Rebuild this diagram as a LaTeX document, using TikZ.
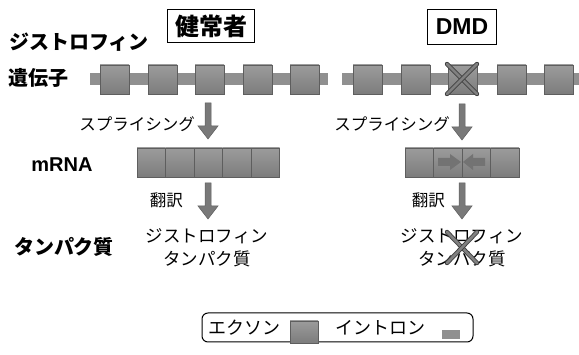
\documentclass[tikz,border=0pt]{standalone}
\usepackage{fontspec}
\setmainfont{Liberation Sans}
\newfontfamily\jp{Noto Sans CJK JP}
\usetikzlibrary{positioning,calc}

\definecolor{exongray}{HTML}{8A8A8A}
\definecolor{introngray}{HTML}{909090}
\definecolor{edgegray}{HTML}{5E5E5E}

\tikzset{
  exon/.style={draw=edgegray, line width=0.6pt, top color=exongray!85!white, bottom color=exongray!90!black},
  intron/.style={fill=introngray, draw=none},
  segment/.style={draw=edgegray, line width=0.8pt, top color=exongray!85!white, bottom color=exongray!90!black},
  flowarrow/.style={fill=gray!95!black, draw=edgegray, line width=0.5pt},
  shiftarrow/.style={fill=black!55, draw=none},
  cross/.style={draw=black!75, double=gray, double distance=2.6pt, line width=0.9pt, line cap=round},
  rowlabel/.style={font=\jp\bfseries\fontsize{20}{22}\selectfont, inner sep=0pt},
  steplabel/.style={font=\jp\fontsize{16.5}{18}\selectfont, inner sep=0pt},
  protlabel/.style={font=\jp\fontsize{17.5}{23}\selectfont, inner sep=0pt, align=center},
  grouptitle/.style={draw, line width=1pt, inner sep=3pt, font=\bfseries\fontsize{23}{25}\selectfont}
}

\begin{document}
\begin{tikzpicture}[x=1pt, y=-1pt]
  \useasboundingbox (0,0) rectangle (579,355);

  % titles
  \node[grouptitle, font=\jp\bfseries\fontsize{24}{26}\selectfont, minimum height=33pt, minimum width=87pt] (healthy) at (211,26) {健常者};
  \node[grouptitle, minimum height=35pt, minimum width=69pt] (dmd) at (462,27) {DMD};

  % row labels
  \node[rowlabel] (lbldys) at (79,42) {ジストロフィン};
  \node[rowlabel] (lblgene) at (39,78) {遺伝子};
  \node[rowlabel, font=\bfseries\fontsize{20}{22}\selectfont] (lblmrna) at (62,165) {mRNA};
  \node[rowlabel] (lblprot) at (64,247) {タンパク質};

  % gene, healthy
  \fill[intron] (90,73) rectangle (328,85);
  \foreach \x in {100,148,195,243,290}
    \draw[exon] (\x,65) rectangle ++(29,29);

  % gene, DMD
  \fill[intron] (342,73) rectangle (579,85);
  \foreach \x in {353,401,448,497,544}
    \draw[exon] (\x,65) rectangle ++(29,29);
  \draw[cross] (447,64) -- (477,94);
  \draw[cross] (477,64) -- (447,94);

  % splicing / translation arrows
  \foreach \x/\y in {208/103, 208/183, 462/104, 462/183}
    \draw[flowarrow] (\x-3,\y) -- ++(6,0) -- ++(0,23) -- ++(7,0) -- ++(-10,13)
      -- ++(-10,-13) -- ++(7,0) -- cycle;
  \node[steplabel, anchor=east] (splice1) at (195,124) {スプライシング};
  \node[steplabel, anchor=east] (splice2) at (450,124) {スプライシング};
  \node[steplabel, anchor=east] (trans1) at (183,200) {翻訳};
  \node[steplabel, anchor=east] (trans2) at (445,200) {翻訳};

  % mRNA
  \foreach \i in {0,...,4}
    \draw[segment] (137+28.5*\i,148) rectangle ++(28.5,29);
  \foreach \i in {0,...,3}
    \draw[segment] (405+28.5*\i,148) rectangle ++(28.5,29);
  \fill[shiftarrow] (438,158) -- (450,158) -- (450,154) -- (461,162) -- (450,170) -- (450,166) -- (438,166) -- cycle;
  \fill[shiftarrow] (485,158) -- (473,158) -- (473,154) -- (463,162) -- (473,170) -- (473,166) -- (485,166) -- cycle;
  \draw[edgegray, line width=0.8pt] (462,148) -- (462,177);

  % protein
  \node[protlabel] (prot1) at (207,248) {ジストロフィン\\タンパク質};
  \node[protlabel] (prot2) at (462,248) {ジストロフィン\\タンパク質};
  \draw[cross] (447,232) -- (477,263);
  \draw[cross] (477,232) -- (447,263);

  % legend
  \draw[line width=1pt, rounded corners=6pt] (202,313) rectangle (473,342);
  \node[steplabel, font=\jp\fontsize{18}{20}\selectfont] (lgexon) at (244,328) {エクソン};
  \draw[exon] (290,321) rectangle (318,343);
  \node[steplabel, font=\jp\fontsize{18}{20}\selectfont] (lgintron) at (380,328) {イントロン};
  \fill[intron] (442,330) rectangle (460,339);
\end{tikzpicture}
\end{document}
